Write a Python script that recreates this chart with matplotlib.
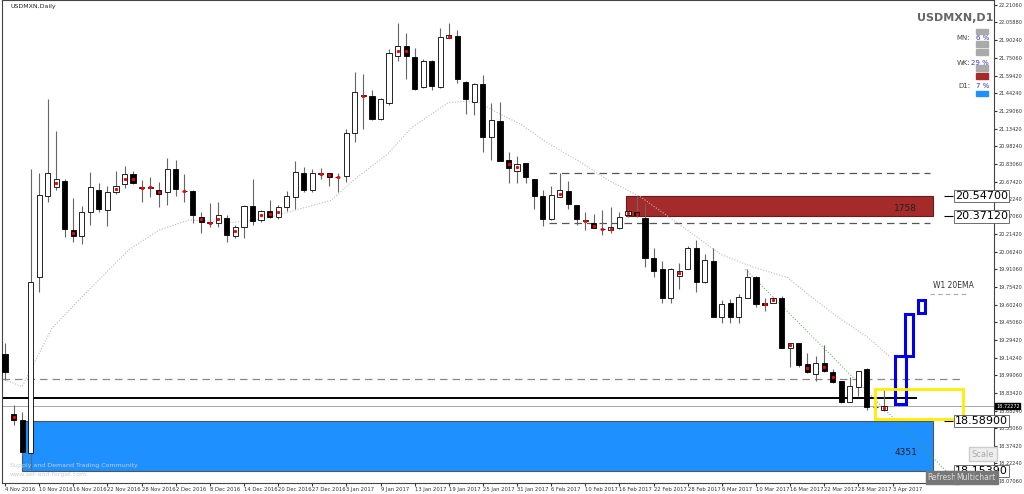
import matplotlib.pyplot as plt
from matplotlib.patches import Rectangle

# OHLC daily candles USDMXN
opens = [19.17, 18.65, 18.60, 18.31, 19.84, 20.55, 20.63, 20.68, 20.25, 20.20, 20.41, 20.60, 20.43, 20.58, 20.65, 20.74, 20.62, 20.62, 20.60, 20.58,
         20.78, 20.59, 20.59, 20.37, 20.31, 20.31, 20.36, 20.20, 20.28, 20.46, 20.34, 20.42, 20.37, 20.45, 20.54, 20.75, 20.60, 20.74, 20.75, 20.71,
         20.72, 21.10, 21.42, 21.42, 21.22, 21.36, 21.77, 21.85, 21.76, 21.50, 21.72, 21.50, 21.92, 21.94, 21.54, 21.37, 21.52, 21.06, 21.20, 20.86,
         20.77, 20.84, 20.70, 20.55, 20.35, 20.54, 20.59, 20.47, 20.33, 20.31, 20.26, 20.25, 20.27, 20.38, 20.41, 20.36, 20.01, 19.91, 19.66, 19.85,
         19.91, 20.10, 19.80, 19.98, 19.50, 19.62, 19.50, 19.66, 19.84, 19.62, 19.62, 19.66, 19.23, 19.27, 19.09, 19.00, 19.10, 19.02, 18.94, 18.76,
         18.89, 19.04, 18.71, 18.69]
highs = [19.27, 18.73, 18.67, 20.78, 20.75, 21.39, 21.11, 20.70, 20.53, 20.46, 20.76, 20.66, 20.64, 20.77, 20.81, 20.77, 20.69, 20.71, 20.67, 20.88,
         20.86, 20.74, 20.60, 20.41, 20.49, 20.50, 20.38, 20.30, 20.47, 20.70, 20.43, 20.51, 20.47, 20.59, 20.85, 20.80, 20.78, 20.79, 20.75, 20.75,
         21.13, 21.63, 21.61, 21.47, 21.40, 21.83, 22.05, 21.97, 21.84, 21.74, 21.73, 22.01, 22.05, 21.99, 21.55, 21.53, 21.60, 21.36, 21.37, 20.93,
         20.90, 20.84, 20.70, 20.60, 20.64, 20.75, 20.68, 20.47, 20.41, 20.39, 20.43, 20.45, 20.41, 20.44, 20.55, 20.49, 20.10, 19.98, 19.92, 19.97,
         20.11, 20.17, 20.04, 20.10, 19.64, 19.65, 19.70, 19.91, 19.85, 19.66, 19.67, 19.68, 19.27, 19.27, 19.18, 19.16, 19.25, 19.04, 18.94, 18.97,
         19.03, 19.05, 18.87, 18.86]
lows = [18.95, 18.56, 18.29, 18.17, 19.71, 20.50, 20.60, 20.19, 20.15, 20.13, 20.30, 20.41, 20.29, 20.57, 20.62, 20.65, 20.50, 20.54, 20.45, 20.47,
        20.55, 20.50, 20.31, 20.23, 20.28, 20.28, 20.15, 20.18, 20.18, 20.30, 20.32, 20.36, 20.35, 20.42, 20.44, 20.58, 20.58, 20.70, 20.64, 20.58,
        20.67, 21.02, 21.13, 21.21, 21.21, 21.34, 21.72, 21.57, 21.47, 21.49, 21.47, 21.49, 21.92, 21.53, 21.26, 21.25, 20.93, 20.86, 20.85, 20.66,
        20.66, 20.66, 20.44, 20.29, 20.34, 20.54, 20.44, 20.30, 20.25, 20.27, 20.21, 20.23, 20.26, 20.37, 20.37, 19.93, 19.84, 19.62, 19.62, 19.74,
        19.91, 19.71, 19.79, 19.50, 19.44, 19.44, 19.44, 19.66, 19.58, 19.55, 19.62, 19.23, 19.06, 19.06, 19.01, 18.94, 19.02, 18.92, 18.75, 18.76,
        18.81, 18.69, 18.67, 18.68]
closes = [19.02, 18.60, 18.32, 19.80, 20.56, 20.75, 20.70, 20.26, 20.20, 20.41, 20.63, 20.44, 20.58, 20.64, 20.74, 20.66, 20.62, 20.63, 20.57, 20.78,
          20.61, 20.59, 20.38, 20.32, 20.32, 20.38, 20.21, 20.28, 20.46, 20.33, 20.42, 20.37, 20.45, 20.55, 20.76, 20.60, 20.75, 20.74, 20.71, 20.71,
          21.10, 21.45, 21.42, 21.22, 21.39, 21.79, 21.85, 21.77, 21.48, 21.72, 21.51, 21.93, 21.95, 21.57, 21.39, 21.52, 21.06, 21.21, 20.85, 20.79,
          20.83, 20.71, 20.55, 20.35, 20.56, 20.60, 20.48, 20.35, 20.33, 20.27, 20.26, 20.28, 20.37, 20.42, 20.38, 20.01, 19.90, 19.66, 19.91, 19.90,
          20.10, 19.80, 19.99, 19.50, 19.61, 19.50, 19.67, 19.84, 19.61, 19.60, 19.66, 19.23, 19.27, 19.08, 19.02, 19.10, 19.03, 18.93, 18.76, 18.90,
          19.03, 18.71, 18.71, 18.72]

# 20 EMA (read at bar positions)
ema_idx = [-0.35, 2.0, 5.5, 9.8, 14.5, 18.0, 21.5, 26.9, 30.9, 34.7, 38.2, 40.9, 44.9, 47.6, 51.9, 53.5, 55.4, 57.8, 60.5, 63.6,
           67.5, 70.6, 74.5, 80.0, 83.9, 87.7, 91.7, 94.0, 97.5, 101.1, 103.7]
ema_val = [18.96, 18.89, 19.40, 19.73, 20.08, 20.25, 20.34, 20.32, 20.36, 20.44, 20.51, 20.69, 20.92, 21.14, 21.36, 21.37, 21.37, 21.27, 21.17, 21.01,
           20.84, 20.69, 20.54, 20.25, 20.04, 19.93, 19.84, 19.70, 19.50, 19.32, 19.15]

date_labels = ["4 Nov 2016", "10 Nov 2016", "16 Nov 2016", "22 Nov 2016", "28 Nov 2016", "2 Dec 2016", "8 Dec 2016",
               "14 Dec 2016", "20 Dec 2016", "27 Dec 2016", "3 Jan 2017", "9 Jan 2017", "13 Jan 2017", "19 Jan 2017",
               "25 Jan 2017", "31 Jan 2017", "6 Feb 2017", "10 Feb 2017", "16 Feb 2017", "22 Feb 2017", "28 Feb 2017",
               "6 Mar 2017", "10 Mar 2017", "16 Mar 2017", "22 Mar 2017", "28 Mar 2017", "3 Apr 2017"]
price_ticks = [22.2106, 22.0588, 21.9024, 21.7506, 21.5942, 21.4424, 21.2906, 21.1342, 20.9824, 20.8306, 20.6742, 20.5224,
               20.3706, 20.2142, 20.0624, 19.9106, 19.7542, 19.6024, 19.4506, 19.2942, 19.1424, 18.9906, 18.8342, 18.6824,
               18.5306, 18.3742, 18.2224, 18.0706]

supply_zone = (20.547, 20.3712)
demand_zone = (18.589, 18.1539)

fig = plt.figure(figsize=(10.24, 4.94), dpi=100)
ax = fig.add_axes([0.002, 11 / 494, 992 / 1024, 483 / 494])
ax.set_xlim(-0.35, 115.9)
ax.set_ylim(18.052, 22.254)

def px(x):
    return (x - 3) / 8.55

# zones
ax.add_patch(Rectangle((px(625), supply_zone[1]), px(933) - px(625), supply_zone[0] - supply_zone[1],
                       facecolor='#a52a2a', edgecolor='#6b1a1a', lw=0.8, zorder=1))
ax.text(px(917), 20.40, '1758', fontsize=6.5, ha='right', va='bottom', color='#222222', zorder=5)
ax.add_patch(Rectangle((px(20), demand_zone[1]), px(933) - px(20), demand_zone[0] - demand_zone[1],
                       facecolor='#1e90ff', edgecolor='#555555', lw=0.8, zorder=1))
ax.text(px(917), 18.32, '4351', fontsize=6.5, ha='right', va='center', color='#222222', zorder=5)

# horizontal lines
ax.hlines([20.75, 20.31], px(548), px(930), colors='#555555', linestyles=(0, (6, 4)), lw=0.9, zorder=2)
ax.hlines(18.96, -0.35, px(960), colors='#888888', linestyles=(0, (6, 4)), lw=0.9, zorder=2)
ax.hlines(18.79, -0.35, px(917), colors='black', lw=1.4, zorder=2)
ax.axhline(18.72, color='#999999', lw=0.6, zorder=2)
ax.hlines(19.70, px(930), px(968), colors='#aaaaaa', linestyles=(0, (4, 3)), lw=0.8)
ax.text(px(933), 19.73, 'W1 20EMA', fontsize=5.5, color='#333333', va='bottom')

# EMA + trendline
ax.plot(ema_idx, ema_val, color='#bbbbbb', lw=0.8, ls=(0, (1, 1.5)), zorder=2)
ax.plot([px(745), px(965)], [19.91, 17.99], color='#3cb043', lw=0.7, ls=(0, (1, 2)), zorder=2)

# candles
w = 0.6
for i, (o, h, l, c) in enumerate(zip(opens, highs, lows, closes)):
    ax.vlines(i, l, h, color='#666666', lw=0.8, zorder=3)
    bottom, top = min(o, c), max(o, c)
    height = max(top - bottom, 0.006)
    fc = 'white' if c >= o else 'black'
    ax.add_patch(Rectangle((i - w / 2, bottom), w, height, facecolor=fc, edgecolor='black', lw=0.6, zorder=4))
    if abs(c - o) < 0.1:
        ax.plot(i, (o + c) / 2, marker='s', ms=1.2, color='red', zorder=5)

# projection boxes
for x0, x1, y0, y1 in [(104.3, 105.6, 18.74, 19.16), (105.5, 106.4, 19.16, 19.52), (107.0, 107.8, 19.53, 19.64)]:
    ax.add_patch(Rectangle((x0, y0), x1 - x0, y1 - y0, facecolor='none', edgecolor='#0000ee', lw=2.2, zorder=6))
ax.add_patch(Rectangle((101.9, 18.61), 10.4, 0.26, facecolor='none', edgecolor='#ffee00', lw=2, zorder=6))

# right-side price labels
for y, s in [(20.547, '20.54700'), (20.3712, '20.37120'), (18.589, '18.58900'), (18.1539, '18.15390')]:
    ax.hlines(y, px(944), px(953), colors='black', lw=0.8)
    ax.text(px(955), y, s, fontsize=8, va='center', ha='left',
            bbox=dict(boxstyle='square,pad=0.1', fc='white', ec='#555555', lw=0.6), zorder=7)

# buttons
ax.text(px(983), 18.30, 'Scale', fontsize=6, color='#aaaaaa', ha='center', va='center',
        bbox=dict(boxstyle='square,pad=0.3', fc='#eeeeee', ec='#cccccc'))
ax.text(px(942), 18.10, 'Refresh', fontsize=5.5, color='#dddddd', ha='center', va='center',
        bbox=dict(boxstyle='square,pad=0.25', fc='#777777', ec='#777777'), zorder=8)
ax.text(px(976), 18.10, 'Multichart', fontsize=5.5, color='#dddddd', ha='center', va='center',
        bbox=dict(boxstyle='square,pad=0.25', fc='#777777', ec='#777777'), zorder=8)

# top right info panel
ax.text(px(993), 22.10, 'USDMXN,D1', fontsize=8, fontweight='bold', color='#666666', ha='right', va='center')
bar_w = px(988) - px(976)
panel = [(21.98, 21.92, 21.87, 'MN:', '6 %', '#aaaaaa', '#aaaaaa'),
         (21.80, 21.71, 21.66, 'WK:', '29 %', '#aaaaaa', '#aaaaaa'),
         (21.59, 21.51, 21.44, 'D1:', '7 %', '#a52a2a', '#1e90ff')]
for ytop, ytxt, ybot, lab, pct, ctop, cbot in panel:
    ax.add_patch(Rectangle((px(976), ytop - 0.025), bar_w, 0.05, color=ctop, zorder=5))
    ax.add_patch(Rectangle((px(976), ybot - 0.025), bar_w, 0.05, color=cbot, zorder=5))
    ax.text(px(970), ytxt, lab, fontsize=5, color='#444444', ha='right', va='center')
    ax.text(px(989), ytxt, pct, fontsize=5, color='#3333cc', ha='right', va='center')

ax.text(px(8), 22.20, 'USDMXN,Daily', fontsize=4.5, color='#222222', va='center')
ax.text(px(8), 18.19, 'Supply and Demand Trading Community', fontsize=4.5, color='#cccccc', zorder=6)
ax.text(px(8), 18.11, 'www.set-and-forget.com', fontsize=4.5, color='#cccccc', zorder=6)

# axes style
ax.yaxis.tick_right()
ax.set_yticks(price_ticks)
ax.set_yticklabels([f'{p:.5f}' for p in price_ticks])
ax.tick_params(axis='y', labelsize=3.6, length=2, pad=1, colors='#333333')
ax.set_xticks(range(0, 4 * len(date_labels), 4))
ax.set_xticklabels(date_labels, ha='left')
ax.tick_params(axis='x', labelsize=3.8, length=2, pad=1, colors='#333333')
ax.text(1.002, (18.72 - 18.052) / (22.254 - 18.052), '18.72272', transform=ax.transAxes, fontsize=3.6,
        color='white', va='center', bbox=dict(boxstyle='square,pad=0.15', fc='black', ec='black'))
for s in ax.spines.values():
    s.set_color('#444444')
    s.set_linewidth(0.8)

fig.savefig('out.png', dpi=100)
